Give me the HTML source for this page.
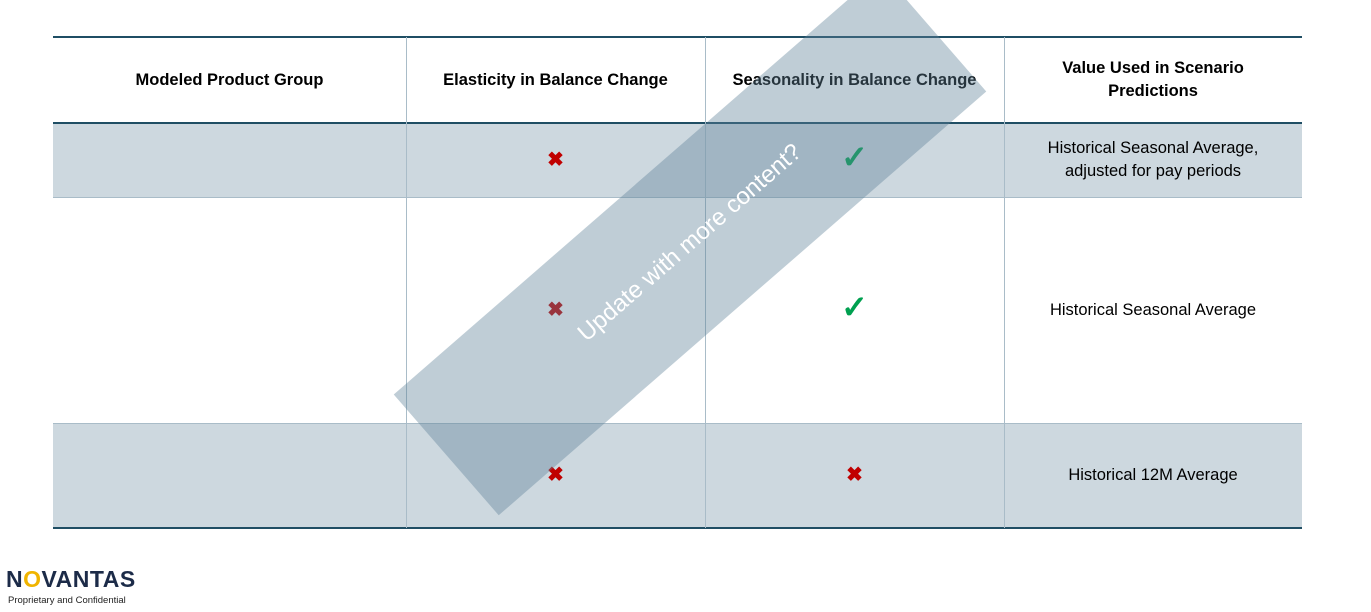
<!DOCTYPE html>
<html><head><meta charset="utf-8"><style>
body{margin:0;width:1371px;height:612px;background:#fff;position:relative;overflow:hidden;font-family:"Liberation Sans",sans-serif;color:#000}
.a{position:absolute}
.shade{position:absolute;left:53px;width:1249px;background:#cdd8df}
.hl{position:absolute;left:53px;width:1249px}
.vl{position:absolute;width:1px;background:#a9bcc8;top:37px;height:491px}
.c{position:absolute;display:flex;align-items:center;justify-content:center;text-align:center;font-size:16.5px;line-height:23px}
.h{font-weight:bold;font-size:16.5px}
.x{color:#c00000;font-size:20px;font-weight:bold}
.k{color:#00a050;font-size:32px;font-weight:bold}
</style></head><body>
<div class="shade" style="top:123px;height:74px"></div>
<div class="shade" style="top:423px;height:105px"></div>
<div class="hl" style="top:36px;height:2px;background:#1f4e64"></div>
<div class="hl" style="top:122px;height:2px;background:#1f4e64"></div>
<div class="hl" style="top:197px;height:1px;background:#a9bcc8"></div>
<div class="hl" style="top:423px;height:1px;background:#a9bcc8"></div>
<div class="hl" style="top:527px;height:2px;background:#1f4e64"></div>
<div class="vl" style="left:406px"></div>
<div class="vl" style="left:705px"></div>
<div class="vl" style="left:1004px"></div>

<div class="c h" style="left:53px;width:353px;top:38px;height:84px">Modeled Product Group</div>
<div class="c h" style="left:406px;width:299px;top:38px;height:84px">Elasticity in Balance Change</div>
<div class="c h" style="left:705px;width:299px;top:38px;height:84px">Seasonality in Balance Change</div>
<div class="c h" style="left:1004px;width:298px;top:38px;height:84px">Value Used in Scenario<br>Predictions</div>

<div class="c x" style="left:406px;width:299px;top:123px;height:74px">✖</div>
<div class="c k" style="left:705px;width:299px;top:120px;height:74px">✓</div>
<div class="c" style="left:1004px;width:298px;top:123px;height:74px">Historical Seasonal Average,<br>adjusted for pay periods</div>

<div class="c x" style="left:406px;width:299px;top:198px;height:225px">✖</div>
<div class="c k" style="left:705px;width:299px;top:195px;height:225px">✓</div>
<div class="c" style="left:1004px;width:298px;top:198px;height:225px">Historical Seasonal Average</div>

<div class="c x" style="left:406px;width:299px;top:424px;height:103px">✖</div>
<div class="c x" style="left:705px;width:299px;top:424px;height:103px">✖</div>
<div class="c" style="left:1004px;width:298px;top:424px;height:103px">Historical 12M Average</div>

<div class="a" style="left:367px;top:163px;width:646px;height:160px;background:rgba(95,130,152,0.4);transform:rotate(-41deg);display:flex;align-items:center;justify-content:center;color:#fff;font-size:24px">Update with more content?</div>

<div class="a" style="left:6px;top:566px;font-size:23px;font-weight:bold;color:#1c2b48;letter-spacing:0.5px">N<span style="color:#f0b400">O</span>VANTAS</div>
<div class="a" style="left:8px;top:595px;font-size:9.5px;color:#222">Proprietary and Confidential</div>
</body></html>
